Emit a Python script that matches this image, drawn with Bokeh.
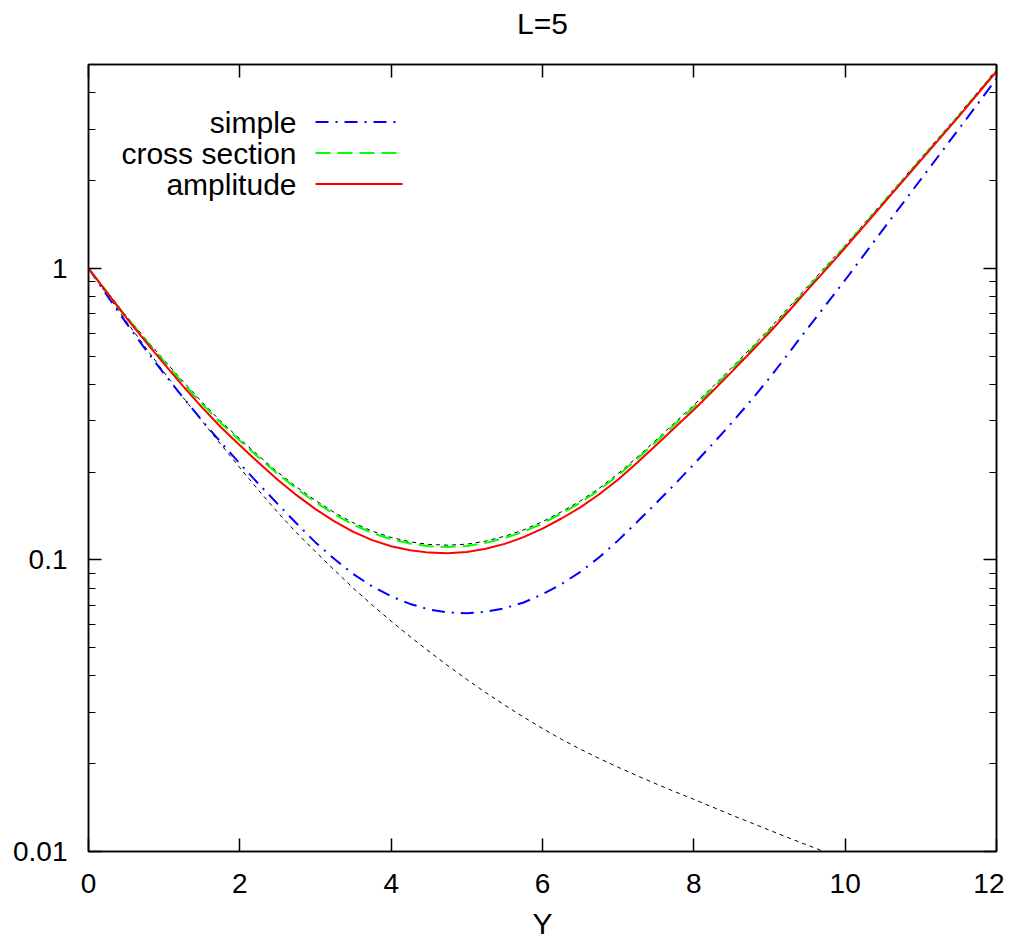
import math
from bokeh.plotting import figure
from bokeh.models import Range1d, LinearAxis, LogAxis, FixedTicker, LogTicker, CustomJSTickFormatter
from bokeh.core.properties import value
from bokeh.embed import file_html
from bokeh.resources import INLINE

# ---------------- data (y read in decades, log10) ----------------
Y_vals = [0.0, 0.25, 0.5, 0.75, 1.0, 1.25, 1.5, 1.75, 2.0, 2.25, 2.5, 2.75, 3.0,
          3.25, 3.5, 3.75, 4.0, 4.25, 4.5, 4.75, 5.0, 5.25, 5.5, 5.75, 6.0,
          6.25, 6.5, 6.75, 7.0, 7.25, 7.5, 7.75, 8.0, 8.25, 8.5, 8.75, 9.0,
          9.25, 9.5, 9.75, 10.0, 10.5, 11.0, 11.5, 12.0]

simple_log10 = [0.0, -0.095, -0.188, -0.277, -0.362, -0.443, -0.522, -0.597, -0.670,
                -0.740, -0.808, -0.875, -0.940, -0.997, -1.049, -1.091, -1.125,
                -1.151, -1.170, -1.180, -1.183, -1.178, -1.166, -1.146, -1.118,
                -1.083, -1.041, -0.991, -0.933, -0.870, -0.806, -0.740, -0.672,
                -0.602, -0.530, -0.455, -0.376, -0.292, -0.207, -0.124, -0.040,
                0.133, 0.305, 0.477, 0.650]

cross_section_log10 = [0.0, -0.0835, -0.167, -0.2445, -0.320, -0.394, -0.465, -0.531,
                       -0.591, -0.649, -0.705, -0.756, -0.802, -0.8435, -0.879,
                       -0.9075, -0.929, -0.944, -0.953, -0.9555, -0.952, -0.9415,
                       -0.925, -0.903, -0.875, -0.841, -0.804, -0.760, -0.710, -0.654,
                       -0.595, -0.535, -0.475, -0.412, -0.347, -0.2805, -0.213,
                       -0.1415, -0.069, 0.0025, 0.075, 0.224, 0.374, 0.523, 0.678]

amplitude_log10 = [0.0, -0.085, -0.170, -0.250, -0.328, -0.404, -0.477, -0.545, -0.607,
                   -0.667, -0.725, -0.778, -0.826, -0.868, -0.904, -0.932, -0.953,
                   -0.967, -0.975, -0.977, -0.973, -0.962, -0.945, -0.922, -0.893,
                   -0.858, -0.820, -0.775, -0.724, -0.667, -0.607, -0.546, -0.485,
                   -0.421, -0.355, -0.288, -0.220, -0.148, -0.075, -0.003, 0.070,
                   0.220, 0.370, 0.520, 0.675]

ref_upper_log10 = [0.0, -0.0815, -0.164, -0.2405, -0.315, -0.388, -0.459, -0.525,
                   -0.585, -0.643, -0.699, -0.750, -0.796, -0.8375, -0.873, -0.9015,
                   -0.923, -0.938, -0.947, -0.9495, -0.946, -0.9355, -0.919, -0.897,
                   -0.869, -0.835, -0.798, -0.754, -0.704, -0.648, -0.589, -0.529,
                   -0.469, -0.406, -0.341, -0.2745, -0.207, -0.1355, -0.063, 0.0085,
                   0.079, 0.228, 0.378, 0.527, 0.682]

Y_lower = [0.0, 0.25, 0.5, 0.75, 1.0, 1.25, 1.5, 1.75, 2.0, 2.25, 2.5, 2.75, 3.0,
           3.25, 3.5, 3.75, 4.0, 4.25, 4.5, 4.75, 5.0, 5.25, 5.5, 5.75, 6.0,
           6.25, 6.5, 6.75, 7.0, 7.25, 7.5, 7.75, 8.0, 8.25, 8.5, 8.75, 9.0,
           9.25, 9.5, 9.75, 10.0]
ref_lower_log10 = [0.0, -0.092, -0.182, -0.270, -0.357, -0.443, -0.524, -0.604, -0.684,
                   -0.762, -0.837, -0.907, -0.972, -1.035, -1.097, -1.155, -1.210,
                   -1.263, -1.314, -1.363, -1.410, -1.455, -1.498, -1.539, -1.578,
                   -1.615, -1.649, -1.681, -1.711, -1.740, -1.768, -1.795, -1.821,
                   -1.848, -1.875, -1.901, -1.927, -1.953, -1.978, -2.003, -2.028]

x_ticks = [0, 2, 4, 6, 8, 10, 12]
legend_labels = ["simple", "cross section", "amplitude"]
title_text = "L=5"
x_label = "Y"

def from_decades(vals):
    return [10.0 ** v for v in vals]

# ---------------- layout / style ----------------
X_MIN, X_MAX = 0.0, 12.0
Y_MIN, Y_MAX = 0.01, 5.0
FW, FH = 908, 787
BL, BT = 88, 64
FONT = "Liberation Sans"

p = figure(frame_width=FW, frame_height=FH,
           x_range=Range1d(X_MIN, X_MAX), y_range=Range1d(Y_MIN, Y_MAX),
           y_axis_type="log", output_backend="svg", toolbar_location=None,
           min_border_left=BL, min_border_right=8, min_border_top=BT,
           min_border_bottom=60)

p.grid.visible = False
p.outline_line_color = "black"
p.outline_line_width = 1.5
p.background_fill_color = "white"
p.border_fill_color = "white"

p.title.text = title_text
p.title.align = "center"
p.title.vertical_align = "bottom"
p.title.text_font = FONT
p.title.text_font_size = "30px"
p.title.text_font_style = "normal"
p.title.text_color = "black"
p.title.standoff = 0

def style_axis(ax, labels=True):
    ax.axis_line_color = "black"
    ax.axis_line_width = 1.5
    ax.major_tick_line_color = "black"
    ax.major_tick_line_width = 1.5
    ax.major_tick_in = 13
    ax.major_tick_out = 0
    ax.minor_tick_line_color = "black"
    ax.minor_tick_line_width = 1.2
    ax.minor_tick_in = 7
    ax.minor_tick_out = 0
    ax.major_label_text_font = FONT
    ax.major_label_text_font_size = "28px" if labels else "0px"
    ax.major_label_text_color = "black"

fmt_js = "return parseFloat(tick.toPrecision(6)).toString();"

xb = p.xaxis[0]
xb.ticker = FixedTicker(ticks=x_ticks)
style_axis(xb)
xb.minor_tick_line_color = None
xb.major_label_standoff = 22
xb.formatter = CustomJSTickFormatter(code=fmt_js)
xb.axis_label = x_label
xb.axis_label_text_font = FONT
xb.axis_label_text_font_size = "30px"
xb.axis_label_text_font_style = "normal"
xb.axis_label_text_color = "black"
xb.axis_label_standoff = 11

yl = p.yaxis[0]
yl.ticker = LogTicker(num_minor_ticks=10)
style_axis(yl)
yl.major_label_standoff = 21
yl.formatter = CustomJSTickFormatter(code=fmt_js)

# top axis: ticks only; an invisible axis label spaces the title away from the frame
xt = LinearAxis(ticker=FixedTicker(ticks=x_ticks),
                formatter=CustomJSTickFormatter(code="return '';"))
style_axis(xt, labels=False)
xt.minor_tick_line_color = None
xt.major_label_standoff = 0
xt.axis_label = "."
xt.axis_label_text_font_size = "10px"
xt.axis_label_text_alpha = 0
xt.axis_label_standoff = 14
p.add_layout(xt, "above")

yr = LogAxis(ticker=LogTicker(num_minor_ticks=10),
             formatter=CustomJSTickFormatter(code="return '';"))
style_axis(yr, labels=False)
yr.major_label_standoff = 0
p.add_layout(yr, "right")

# ---------------- curves ----------------
p.line(Y_lower, from_decades(ref_lower_log10), line_color="black", line_width=1, line_dash="4 4")
p.line(Y_vals, from_decades(ref_upper_log10), line_color="black", line_width=1, line_dash="4 4")
p.line(Y_vals, from_decades(simple_log10), line_color="#0000ff", line_width=2, line_dash="13 7 2 7")
p.line(Y_vals, from_decades(cross_section_log10), line_color="#00ff00", line_width=2, line_dash="15 7")
p.line(Y_vals, from_decades(amplitude_log10), line_color="#ff0000", line_width=2)

# ---------------- gnuplot-style key (positions given in picture pixels) ----------------
LEFT_PX, TOP_PX = 88.0, 64.0   # frame origin in picture pixels

def px_to_x(px):
    return X_MIN + (px - LEFT_PX) / FW * (X_MAX - X_MIN)

def py_to_y(py):
    lo, hi = math.log10(Y_MIN), math.log10(Y_MAX)
    return 10 ** (hi - (py - TOP_PX) / FH * (hi - lo))

rows_py = [121.5, 152.5, 183.5]
styles = [("#0000ff", "13 7 2 7"), ("#00ff00", "15 7"), ("#ff0000", "solid")]
p.text(x=[px_to_x(296)] * 3, y=[py_to_y(r) for r in rows_py], text=legend_labels,
       text_align="right", text_baseline="middle", text_color="black",
       text_font=value(FONT), text_font_size=value("30px"))
for r, (c, d) in zip(rows_py, styles):
    p.line([px_to_x(315), px_to_x(402)], [py_to_y(r), py_to_y(r)],
           line_color=c, line_width=2, line_dash=d)

open("out.html", "w").write(file_html(p, INLINE))
